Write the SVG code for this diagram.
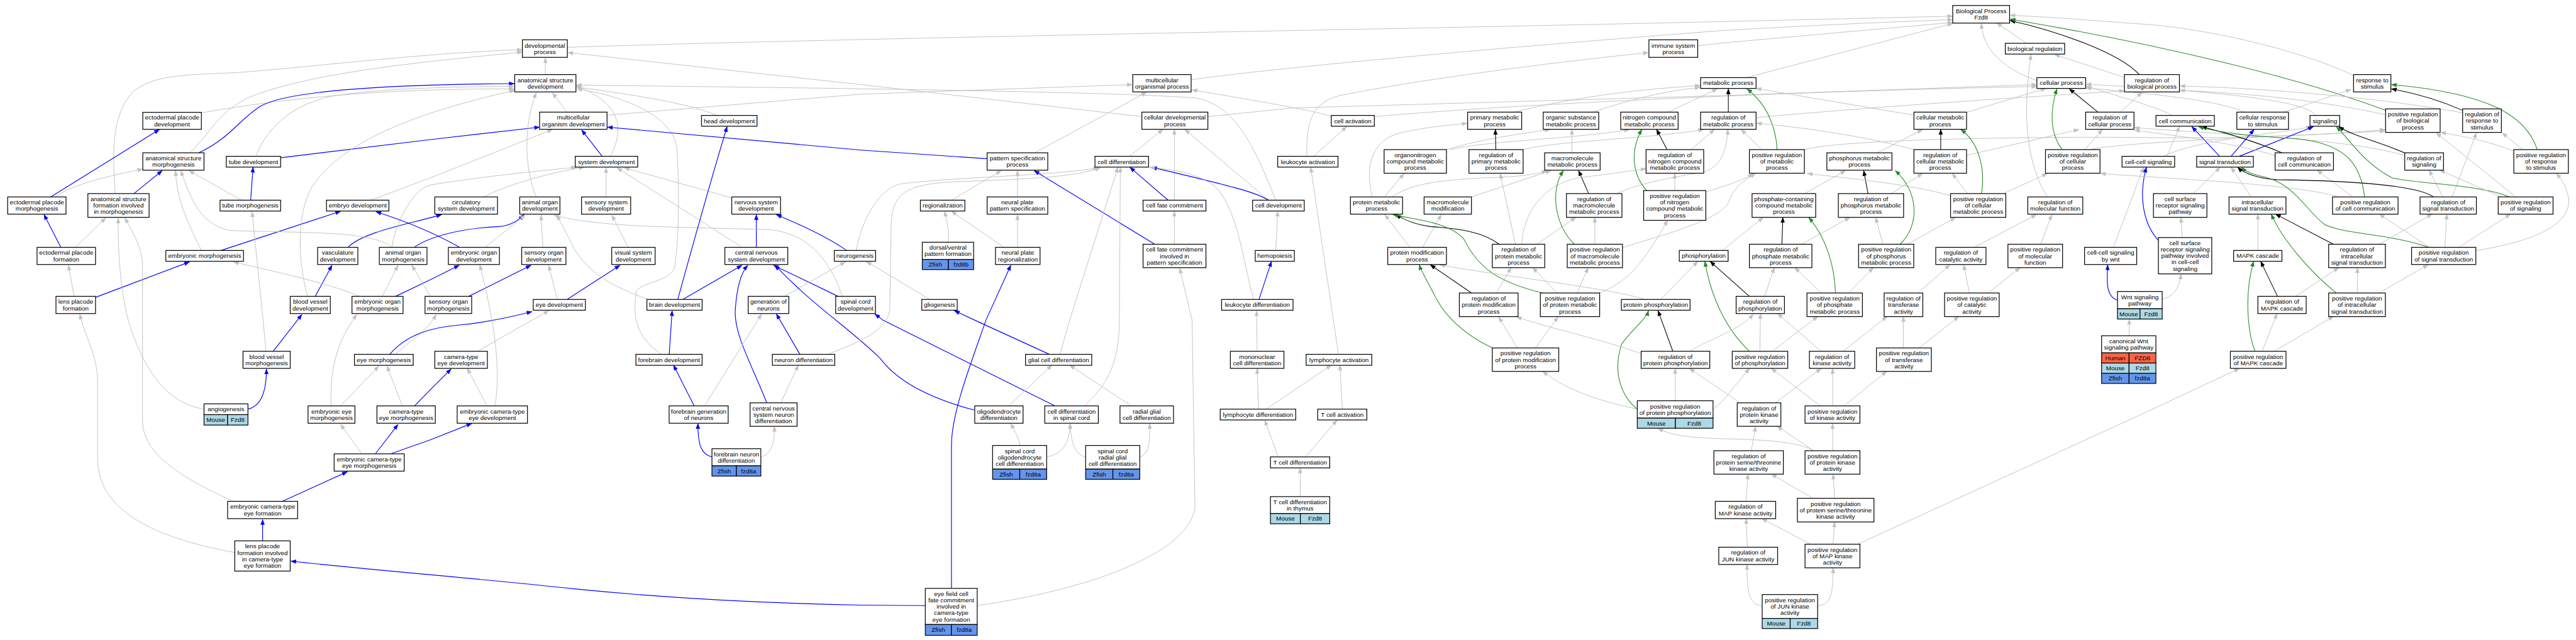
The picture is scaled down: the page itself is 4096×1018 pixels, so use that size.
<svg xmlns="http://www.w3.org/2000/svg" width="4096" height="1018" viewBox="0 0 4096 1018">
<style>
.n rect{fill:#fff;stroke:#000;stroke-width:1.6}
.n rect.mo{fill:#add8e6}
.n rect.zf{fill:#6495ed}
.n rect.hu{fill:#ff6347}
text{font-family:"Liberation Sans",Arial,Helvetica,sans-serif;font-size:13px;text-anchor:middle;fill:#000}
#edges path{fill:none}
.g{stroke:#c2c2c2;stroke-width:1.3;marker-end:url(#mg)}
.b{stroke:#0000ff;stroke-width:1.5;marker-end:url(#mb)}
.k{stroke:#000;stroke-width:1.4;marker-end:url(#mk)}
.v{stroke:#228b22;stroke-width:1.4;marker-end:url(#mv)}
</style>
<defs>
<marker id="mg" viewBox="0 0 12 9" refX="11" refY="4.5" markerWidth="12" markerHeight="9" markerUnits="userSpaceOnUse" orient="auto"><path d="M0,0L12,4.5L0,9z" fill="#c2c2c2"/></marker>
<marker id="mb" viewBox="0 0 12 9" refX="11" refY="4.5" markerWidth="12" markerHeight="9" markerUnits="userSpaceOnUse" orient="auto"><path d="M0,0L12,4.5L0,9z" fill="#0000ff"/></marker>
<marker id="mk" viewBox="0 0 12 9" refX="11" refY="4.5" markerWidth="12" markerHeight="9" markerUnits="userSpaceOnUse" orient="auto"><path d="M0,0L12,4.5L0,9z" fill="#000"/></marker>
<marker id="mv" viewBox="0 0 12 9" refX="11" refY="4.5" markerWidth="12" markerHeight="9" markerUnits="userSpaceOnUse" orient="auto"><path d="M0,0L12,4.5L0,9z" fill="#228b22"/></marker>
</defs>
<rect x="0" y="0" width="4096" height="1018" fill="#fff"/>
<g transform="scale(0.76063,0.76027)">
<g id="edges">
<path class="g" d="M421,236 C600,205 800,185 1075,186"/>
<path class="b" d="M415,320 C480,290 500,250 545,222 C600,190 800,177 1075,175"/>
<path class="g" d="M396,320 C440,280 450,240 517,205 C650,150 900,128 1092,109"/>
<path class="g" d="M241,405 C236,330 230,240 280,190 C330,150 420,158 520,150 C700,135 900,110 1092,104"/>
<path class="b" d="M280,405 L339,357"/>
<path class="b" d="M106,412 L333,271"/>
<path class="g" d="M115,412 Q160,380 298,354"/>
<path class="g" d="M535,327 C560,260 620,215 700,200 C800,185 950,181 1075,181"/>
<path class="b" d="M587,330 L900,292 L1128,266"/>
<path class="b" d="M524,419 L529,350"/>
<path class="g" d="M505,419 L395,357"/>
<path class="g" d="M775,419 L900,372 L1155,271"/>
<path class="b" d="M127,517 L92,449"/>
<path class="g" d="M158,517 L221,456"/>
<path class="b" d="M462,524 L712,442"/>
<path class="g" d="M421,524 C390,460 370,420 367,357"/>
<path class="b" d="M728,517 C760,485 850,470 923,449"/>
<path class="g" d="M818,517 C780,480 600,488 480,482 C420,470 400,420 378,357"/>
<path class="b" d="M867,517 C890,500 950,478 1043,474 C1070,472 1085,460 1095,449"/>
<path class="g" d="M820,517 C822,480 860,395 900,387 C1000,370 1150,355 1205,350"/>
<path class="g" d="M155,620 L143,555"/>
<path class="b" d="M200,622 L396,548"/>
<path class="b" d="M659,620 L694,555"/>
<path class="g" d="M643,620 C620,540 620,430 660,380 C720,300 850,240 1076,189"/>
<path class="g" d="M752,620 C680,590 560,565 488,548"/>
<path class="g" d="M799,620 L832,555"/>
<path class="b" d="M827,620 L900,585 L960,555"/>
<path class="g" d="M900,620 L861,555"/>
<path class="b" d="M980,620 L1110,555"/>
<path class="g" d="M426,856 C330,840 290,740 268,670 C250,600 247,520 247,456"/>
<path class="g" d="M488,1049 C380,1000 298,950 298,880 L298,560 C298,520 280,490 261,456"/>
<path class="g" d="M491,1156 C350,1130 204,1080 204,960 L204,800 C204,740 175,700 167,657"/>
<path class="g" d="M556,735 L550,670 L527,443"/>
<path class="b" d="M571,735 L631,658"/>
<path class="b" d="M518,856 C545,850 557,820 557,772"/>
<path class="g" d="M692,849 C690,780 700,720 746,658"/>
<path class="g" d="M712,849 L792,766"/>
<path class="g" d="M841,849 L809,766"/>
<path class="b" d="M867,849 L900,815 L943,772"/>
<path class="g" d="M827,741 C860,710 895,690 912,658"/>
<path class="b" d="M815,741 C850,700 900,685 960,680 C1020,675 1080,660 1112,652"/>
<path class="g" d="M756,949 L712,888"/>
<path class="b" d="M785,949 L832,888"/>
<path class="b" d="M818,949 L900,920 L986,886"/>
<path class="b" d="M590,1049 L726,987"/>
<path class="b" d="M549,1132 L549,1087"/>
<path class="b" d="M1934,1267 L1800,1266 C1600,1262 1400,1252 1200,1232 C1000,1210 800,1195 608,1174"/>
<path class="g" d="M1186,99 C1600,85 2500,68 3000,58 C3500,48 3900,38 4082,34"/>
<path class="g" d="M1140,156 L1140,121"/>
<path class="g" d="M1185,235 L1155,194"/>
<path class="g" d="M1269,241 L1800,197 L2367,177"/>
<path class="g" d="M1497,241 C1440,215 1300,195 1205,182"/>
<path class="b" d="M1259,327 L1216,272"/>
<path class="g" d="M1276,327 C1300,280 1310,220 1205,180"/>
<path class="g" d="M1012,412 C1050,390 1150,360 1221,350"/>
<path class="g" d="M1121,412 C1095,350 1095,260 1121,194"/>
<path class="g" d="M1267,412 L1267,351"/>
<path class="g" d="M1530,414 L1305,351"/>
<path class="g" d="M1551,517 L1290,351"/>
<path class="b" d="M1581,517 L1581,449"/>
<path class="b" d="M1770,524 C1720,490 1660,465 1623,449"/>
<path class="g" d="M1790,524 C1800,470 1830,400 1880,385 C2000,370 2200,368 2296,351"/>
<path class="b" d="M1752,620 L1617,555"/>
<path class="g" d="M1761,620 C1740,560 1700,485 1600,480 C1400,475 1250,475 1158,450"/>
<path class="g" d="M1015,517 L1098,450"/>
<path class="b" d="M960,517 C930,500 870,470 786,443"/>
<path class="g" d="M1135,517 L1131,450"/>
<path class="g" d="M1313,517 L1279,450"/>
<path class="g" d="M1165,626 L1147,555"/>
<path class="b" d="M1186,626 L1296,555"/>
<path class="b" d="M1417,626 C1460,470 1500,330 1520,265"/>
<path class="b" d="M1428,626 L1551,555"/>
<path class="g" d="M1354,626 C1280,600 1230,570 1200,520 C1185,490 1175,470 1164,450"/>
<path class="g" d="M1640,620 L1767,548"/>
<path class="b" d="M1603,843 C1570,760 1535,700 1537,650 C1540,600 1550,570 1563,555"/>
<path class="b" d="M2037,858 C1930,830 1870,790 1840,750 C1780,690 1700,640 1620,555"/>
<path class="b" d="M2205,849 L1846,670 L1829,657"/>
<path class="b" d="M2193,741 L2038,670 L1995,650"/>
<path class="b" d="M1989,1231 L1989,930 C1990,860 2030,760 2061,670 L2113,555"/>
<path class="g" d="M1473,849 L1592,657"/>
<path class="b" d="M1672,741 L1623,657"/>
<path class="b" d="M1399,741 L1405,650"/>
<path class="g" d="M1382,741 C1340,710 1320,680 1330,610 C1340,590 1400,590 1410,560 C1420,500 1420,380 1415,310 C1405,240 1300,200 1206,186"/>
<path class="g" d="M2490,167 C2600,150 3000,110 3600,64 C3800,52 4000,44 4082,41"/>
<path class="g" d="M2387,244 L1800,177 L1187,110"/>
<path class="g" d="M2525,244 L2700,226 L3600,200 L4258,177"/>
<path class="g" d="M2783,244 C2750,232 2650,215 2492,188"/>
<path class="g" d="M2873,244 C3200,215 3800,190 4258,181"/>
<path class="g" d="M2162,320 L2397,193"/>
<path class="b" d="M2063,332 L1800,314 L1270,266"/>
<path class="g" d="M2361,327 L2431,271"/>
<path class="g" d="M2455,419 L2455,271"/>
<path class="b" d="M2442,419 L2362,350"/>
<path class="g" d="M2652,419 L2477,271"/>
<path class="b" d="M2652,419 C2630,405 2600,395 2408,350"/>
<path class="g" d="M1989,419 L2093,357"/>
<path class="g" d="M2127,412 L2127,357"/>
<path class="b" d="M2414,511 L2162,357"/>
<path class="g" d="M2455,511 L2455,442"/>
<path class="g" d="M1982,507 C1985,480 1978,460 1975,442"/>
<path class="g" d="M2098,517 L1989,442"/>
<path class="g" d="M2127,517 L2127,449"/>
<path class="g" d="M2667,524 L2671,442"/>
<path class="b" d="M2632,626 L2658,547"/>
<path class="g" d="M2621,626 C2600,560 2590,440 2540,390 C2500,360 2450,355 2403,350"/>
<path class="g" d="M1943,626 L1811,547"/>
<path class="g" d="M2216,741 L2236,670 L2337,350"/>
<path class="g" d="M2268,849 C2300,815 2340,780 2340,670 L2342,350"/>
<path class="g" d="M2043,1267 C2300,1230 2490,1150 2498,1060 L2492,670 L2466,561"/>
<path class="g" d="M2628,735 L2627,650"/>
<path class="g" d="M2667,419 C2620,300 2580,220 2500,205 C2300,190 1600,183 1205,178"/>
<path class="g" d="M1732,741 C1780,720 1850,700 1860,650 L1863,470 C1865,400 1900,385 2000,380 C2150,375 2250,370 2300,351"/>
<path class="g" d="M3549,96 L3600,90 L4082,47"/>
<path class="g" d="M2746,327 L2815,265"/>
<path class="g" d="M2732,327 C2730,260 2740,215 2800,200 C3000,160 3300,125 3446,110"/>
<path class="g" d="M3164,235 C3300,200 3450,185 3554,179"/>
<path class="g" d="M3329,235 C3400,210 3480,190 3554,183"/>
<path class="g" d="M3486,235 L3590,186"/>
<path class="k" d="M3613,235 L3613,186"/>
<path class="g" d="M3671,246 C3900,225 4200,205 4441,190"/>
<path class="g" d="M3024,313 C3100,290 3180,280 3240,271"/>
<path class="g" d="M3033,313 C3100,295 3300,290 3406,271"/>
<path class="k" d="M3127,313 L3126,271"/>
<path class="g" d="M3184,313 C3250,295 3450,290 3561,271"/>
<path class="g" d="M3286,320 L3286,271"/>
<path class="k" d="M3485,313 L3463,271"/>
<path class="g" d="M3535,313 L3584,271"/>
<path class="g" d="M2869,412 C2855,360 2860,300 2920,280 C2980,265 3030,262 3067,258"/>
<path class="g" d="M2894,412 L2935,363"/>
<path class="g" d="M2910,412 C2950,385 3000,378 3100,372 C3180,370 3210,365 3234,357"/>
<path class="g" d="M3076,412 L3242,357"/>
<path class="k" d="M3321,405 L3300,357"/>
<path class="g" d="M3380,405 C3420,385 3500,370 3560,360 C3600,350 3610,310 3612,271"/>
<path class="v" d="M3443,399 C3415,370 3405,320 3432,271"/>
<path class="g" d="M3501,399 L3501,363"/>
<path class="g" d="M3566,402 C3600,390 3640,380 3665,363"/>
<path class="g" d="M2947,517 L2895,449"/>
<path class="g" d="M2974,517 L3013,449"/>
<path class="k" d="M3134,511 C3100,485 3050,478 2990,474 C2960,470 2935,460 2918,449"/>
<path class="g" d="M3213,511 L3294,455"/>
<path class="g" d="M3168,511 L3136,363"/>
<path class="g" d="M3181,511 C3185,440 3230,385 3300,372 C3380,362 3420,356 3441,353"/>
<path class="v" d="M3291,511 C3250,470 3240,400 3268,357"/>
<path class="g" d="M3334,511 L3334,455"/>
<path class="g" d="M3392,518 C3480,490 3600,460 3615,420 C3625,390 3650,375 3670,363"/>
<path class="k" d="M3076,613 L2990,554"/>
<path class="g" d="M3128,613 L3159,560"/>
<path class="v" d="M3225,613 C3130,590 3090,560 3060,500 C3030,465 2960,460 2912,449"/>
<path class="g" d="M3255,613 L3204,560"/>
<path class="g" d="M3297,613 L3320,560"/>
<path class="g" d="M3343,613 C3400,590 3430,560 3486,461"/>
<path class="g" d="M3600,524 L3686,455"/>
<path class="g" d="M3438,626 C3350,600 3150,580 3010,554"/>
<path class="g" d="M3472,626 L3549,547"/>
<path class="v" d="M3657,735 C3620,700 3580,640 3564,547"/>
<path class="k" d="M3657,620 L3575,547"/>
<path class="v" d="M3120,728 C3060,700 3020,660 3000,620 C2985,590 2972,570 2967,554"/>
<path class="v" d="M3423,856 C3390,830 3370,780 3390,720 C3410,690 3440,670 3446,650"/>
<path class="k" d="M3497,735 L3466,650"/>
<path class="g" d="M3172,728 L3133,663"/>
<path class="g" d="M3210,728 L3257,663"/>
<path class="g" d="M3431,740 C3350,710 3250,690 3170,663"/>
<path class="g" d="M3532,735 C3570,710 3640,690 3665,657"/>
<path class="g" d="M3502,838 L3502,771"/>
<path class="g" d="M3423,856 C3350,840 3280,820 3225,777"/>
<path class="g" d="M3581,856 L3600,840 L3657,771"/>
<path class="g" d="M3792,943 C3760,925 3700,920 3600,918 C3530,916 3490,910 3466,896"/>
<path class="g" d="M2798,741 L2740,350"/>
<path class="g" d="M2631,856 L2628,771"/>
<path class="g" d="M2647,856 L2783,764"/>
<path class="g" d="M2806,856 L2801,764"/>
<path class="g" d="M2672,956 L2644,879"/>
<path class="g" d="M2729,956 L2795,879"/>
<path class="g" d="M2718,1039 L2718,979"/>
<path class="g" d="M3652,162 L4082,49"/>
<path class="g" d="M4237,91 L4174,48"/>
<path class="g" d="M4258,169 C4180,140 4145,100 4142,49"/>
<path class="k" d="M4472,156 C4430,110 4300,65 4202,43"/>
<path class="g" d="M4441,162 L4295,114"/>
<path class="v" d="M4987,231 C4800,160 4500,90 4202,40"/>
<path class="g" d="M4920,158 C4800,100 4600,60 4500,52 C4400,45 4300,36 4202,32"/>
<path class="g" d="M4001,241 L3671,185"/>
<path class="g" d="M4111,235 L4277,185"/>
<path class="k" d="M4386,235 L4326,186"/>
<path class="g" d="M4432,235 L4478,193"/>
<path class="g" d="M3683,313 L3640,271"/>
<path class="v" d="M3715,313 C3712,260 3690,215 3652,186"/>
<path class="g" d="M3772,313 C3850,290 4300,285 4500,288 C4700,290 4900,280 4986,271"/>
<path class="g" d="M3924,320 L4019,271"/>
<path class="k" d="M4057,313 L4057,271"/>
<path class="g" d="M4001,313 C3900,285 3760,265 3672,258"/>
<path class="g" d="M4111,325 L4346,271"/>
<path class="v" d="M4311,313 C4285,280 4285,230 4300,186"/>
<path class="g" d="M4358,313 L4395,271"/>
<path class="g" d="M4369,313 C4450,295 4800,285 4986,274"/>
<path class="g" d="M4530,327 L4556,265"/>
<path class="g" d="M4522,327 C4600,290 4760,280 4832,265"/>
<path class="g" d="M3772,405 L3858,357"/>
<path class="k" d="M3905,405 L3896,357"/>
<path class="g" d="M3953,405 L4019,363"/>
<path class="v" d="M4142,405 C4150,360 4140,300 4099,271"/>
<path class="g" d="M4113,405 L4081,363"/>
<path class="g" d="M4188,405 L4280,363"/>
<path class="g" d="M4078,410 C4000,385 3850,372 3778,363"/>
<path class="g" d="M4280,412 C4240,350 4225,250 4246,114"/>
<path class="k" d="M3725,511 L3727,455"/>
<path class="g" d="M3766,511 L3867,455"/>
<path class="v" d="M3972,511 C4015,470 4010,400 3962,357"/>
<path class="g" d="M3936,511 L3921,455"/>
<path class="g" d="M3987,511 L4088,455"/>
<path class="g" d="M4128,517 L4257,449"/>
<path class="g" d="M4266,511 L4289,449"/>
<path class="g" d="M4418,517 L4481,350"/>
<path class="b" d="M4426,628 C4400,620 4405,580 4406,554"/>
<path class="b" d="M4514,505 C4480,470 4470,410 4487,350"/>
<path class="g" d="M3689,620 L3709,560"/>
<path class="v" d="M3837,613 C3835,560 3820,500 3781,455"/>
<path class="g" d="M3807,613 L3752,560"/>
<path class="g" d="M3864,613 L3916,560"/>
<path class="g" d="M4010,613 L4076,554"/>
<path class="g" d="M4117,613 L4105,554"/>
<path class="g" d="M4156,613 L4223,560"/>
<path class="g" d="M4773,235 L4915,187"/>
<path class="g" d="M4692,235 C4650,215 4550,200 4361,184"/>
<path class="g" d="M4540,241 C4500,220 4420,200 4361,180"/>
<path class="g" d="M4841,241 C4820,215 4700,195 4361,176"/>
<path class="g" d="M4987,240 C4850,210 4700,195 4557,189"/>
<path class="g" d="M5148,236 C4950,200 4700,183 4557,180"/>
<path class="g" d="M5027,325 C4900,290 4700,285 4462,267"/>
<path class="k" d="M5148,231 C5100,210 5050,195 4999,186"/>
<path class="b" d="M4640,327 L4582,265"/>
<path class="b" d="M4664,327 L4712,271"/>
<path class="b" d="M4681,327 L4836,265"/>
<path class="k" d="M4771,320 C4700,290 4640,275 4602,265"/>
<path class="g" d="M4756,325 C4650,295 4550,285 4462,272"/>
<path class="k" d="M5027,320 C4970,295 4920,285 4889,265"/>
<path class="v" d="M5304,313 C5280,240 5200,195 4999,177"/>
<path class="g" d="M5273,313 L5231,278"/>
<path class="g" d="M5255,316 C5200,295 5150,285 5102,277"/>
<path class="g" d="M4585,405 L4641,350"/>
<path class="g" d="M4706,412 L4664,350"/>
<path class="v" d="M4943,412 C4935,340 4900,300 4800,290 C4700,285 4630,275 4596,265"/>
<path class="g" d="M4918,412 L4844,356"/>
<path class="g" d="M4889,412 C4800,385 4550,375 4391,363"/>
<path class="k" d="M5087,412 C5050,385 4900,378 4760,376 C4720,374 4690,362 4678,350"/>
<path class="g" d="M5107,412 L5078,356"/>
<path class="g" d="M5126,412 L5177,278"/>
<path class="v" d="M5246,412 C5180,385 5050,385 5000,372 C4940,340 4910,290 4884,265"/>
<path class="g" d="M5228,412 L5100,356"/>
<path class="g" d="M5259,412 L5093,278"/>
<path class="v" d="M5076,517 C5000,490 4900,490 4860,470 C4820,440 4800,390 4740,372 C4710,365 4695,360 4686,350"/>
<path class="g" d="M5111,517 L5115,448"/>
<path class="g" d="M5141,517 L5248,448"/>
<path class="g" d="M5176,524 C5300,505 5370,470 5370,420 C5368,395 5355,375 5344,363"/>
<path class="g" d="M5078,517 L4974,448"/>
<path class="g" d="M4562,497 L4559,455"/>
<path class="g" d="M4520,626 C4545,620 4557,600 4559,573"/>
<path class="g" d="M4720,524 L4720,448"/>
<path class="k" d="M4878,511 L4757,448"/>
<path class="g" d="M4974,511 L5084,448"/>
<path class="v" d="M4884,613 C4830,570 4770,500 4748,448"/>
<path class="g" d="M4928,613 L4928,560"/>
<path class="g" d="M4973,613 L5076,554"/>
<path class="k" d="M4761,620 L4726,547"/>
<path class="g" d="M4799,620 L4889,560"/>
<path class="v" d="M4714,735 C4700,700 4690,620 4711,547"/>
<path class="g" d="M4729,735 L4760,656"/>
<path class="g" d="M4754,735 L4878,662"/>
<path class="g" d="M3885,1138 L4500,856 L4681,771"/>
<path class="g" d="M4451,702 L4451,668"/>
<path class="g" d="M3679,735 L3680,656"/>
<path class="g" d="M3705,735 L3800,662"/>
<path class="g" d="M3853,735 L3945,662"/>
<path class="g" d="M3807,735 L3716,656"/>
<path class="g" d="M3979,728 L3979,662"/>
<path class="g" d="M4012,728 L4095,662"/>
<path class="g" d="M3711,843 L3807,771"/>
<path class="g" d="M3637,843 L3600,817 L3532,771"/>
<path class="g" d="M3831,849 L3831,771"/>
<path class="g" d="M3805,849 L3703,771"/>
<path class="g" d="M3855,849 L3944,777"/>
<path class="g" d="M3661,943 L3670,892"/>
<path class="g" d="M3792,943 L3715,892"/>
<path class="g" d="M3831,943 L3831,886"/>
<path class="g" d="M3789,1042 L3703,992"/>
<path class="g" d="M3835,1042 L3832,992"/>
<path class="g" d="M3650,1049 L3654,992"/>
<path class="g" d="M3784,1138 L3683,1085"/>
<path class="g" d="M3832,1138 L3835,1092"/>
<path class="g" d="M3653,1145 L3650,1085"/>
<path class="g" d="M3684,1267 C3660,1265 3652,1250 3652,1181"/>
<path class="g" d="M3800,1267 C3825,1265 3832,1250 3832,1188"/>
<path class="b" d="M1451,849 L1408,764"/>
<path class="g" d="M1632,843 L1669,764"/>
<path class="b" d="M1488,956 C1465,950 1459,930 1459,886"/>
<path class="g" d="M1590,956 C1612,950 1619,930 1619,892"/>
<path class="g" d="M2132,932 C2130,915 2120,900 2113,886"/>
<path class="g" d="M2188,956 C2225,950 2237,920 2237,886"/>
<path class="g" d="M2269,956 C2245,950 2238,920 2237,886"/>
<path class="g" d="M2383,956 C2400,950 2405,930 2403,886"/>
<path class="g" d="M2109,849 L2199,764"/>
<path class="g" d="M2365,849 L2236,764"/>
<path class="g" d="M998,735 L1147,650"/>
<path class="g" d="M1035,849 C1045,780 1040,700 1003,554"/>
<path class="g" d="M1018,849 L977,771"/>
</g>
<g id="nodes">
<g id="n_bp" class="n"><rect x="4082" y="11.5" width="119" height="36.8"/><text x="4141.5" y="27.6">Biological Process<tspan x="4141.5" dy="13.5">Fzd8</tspan></text></g>
<g id="n_dev" class="n"><rect x="1092" y="83.3" width="94" height="36.7"/><text x="1139" y="99.4">developmental<tspan x="1139" dy="13.5">process</tspan></text></g>
<g id="n_imm" class="n"><rect x="3447" y="83.3" width="102" height="36.7"/><text x="3498" y="99.4">immune system<tspan x="3498" dy="13.5">process</tspan></text></g>
<g id="n_bioreg" class="n"><rect x="4192" y="90.6" width="124" height="22.6"/><text x="4254" y="106.4">biological regulation</text></g>
<g id="n_asd" class="n"><rect x="1076" y="156" width="128" height="36.3"/><text x="1140" y="171.9">anatomical structure<tspan x="1140" dy="13.5">development</tspan></text></g>
<g id="n_mop" class="n"><rect x="2368" y="156" width="122" height="36.3"/><text x="2429" y="171.9">multicellular<tspan x="2429" dy="13.5">organismal process</tspan></text></g>
<g id="n_met" class="n"><rect x="3555" y="162.4" width="116" height="22.6"/><text x="3613" y="178.2">metabolic process</text></g>
<g id="n_cp" class="n"><rect x="4258" y="162.4" width="102" height="22.6"/><text x="4309" y="178.2">cellular process</text></g>
<g id="n_rbp" class="n"><rect x="4441" y="156" width="115" height="36.3"/><text x="4498.5" y="171.9">regulation of<tspan x="4498.5" dy="13.5">biological process</tspan></text></g>
<g id="n_rts" class="n"><rect x="4920" y="156" width="78" height="36.3"/><text x="4959" y="171.9">response to<tspan x="4959" dy="13.5">stimulus</tspan></text></g>
<g id="n_epd" class="n"><rect x="298.5" y="235" width="122.5" height="35.5"/><text x="359.75" y="250.5">ectodermal placode<tspan x="359.75" dy="13.5">development</tspan></text></g>
<g id="n_mod" class="n"><rect x="1128" y="234.6" width="141" height="35.9"/><text x="1198.5" y="250.3">multicellular<tspan x="1198.5" dy="13.5">organism development</tspan></text></g>
<g id="n_head" class="n"><rect x="1466.5" y="241.5" width="116" height="22.5"/><text x="1524.5" y="257.25">head development</text></g>
<g id="n_cdp" class="n"><rect x="2387" y="234.6" width="138" height="35.9"/><text x="2456" y="250.3">cellular developmental<tspan x="2456" dy="13.5">process</tspan></text></g>
<g id="n_cact" class="n"><rect x="2783" y="241.5" width="90" height="22.5"/><text x="2828" y="257.25">cell activation</text></g>
<g id="n_pmp" class="n"><rect x="3068" y="234.6" width="113" height="35.9"/><text x="3124.5" y="250.3">primary metabolic<tspan x="3124.5" dy="13.5">process</tspan></text></g>
<g id="n_osmp" class="n"><rect x="3226" y="234.6" width="116" height="35.9"/><text x="3284" y="250.3">organic substance<tspan x="3284" dy="13.5">metabolic process</tspan></text></g>
<g id="n_ncmp" class="n"><rect x="3388" y="234.6" width="120" height="35.9"/><text x="3448" y="250.3">nitrogen compound<tspan x="3448" dy="13.5">metabolic process</tspan></text></g>
<g id="n_rmp" class="n"><rect x="3555" y="234.6" width="116" height="35.9"/><text x="3613" y="250.3">regulation of<tspan x="3613" dy="13.5">metabolic process</tspan></text></g>
<g id="n_cmp" class="n"><rect x="4001" y="234.6" width="110" height="35.9"/><text x="4056" y="250.3">cellular metabolic<tspan x="4056" dy="13.5">process</tspan></text></g>
<g id="n_rcp" class="n"><rect x="4360" y="234.6" width="101" height="35.9"/><text x="4410.5" y="250.3">regulation of<tspan x="4410.5" dy="13.5">cellular process</tspan></text></g>
<g id="n_cc" class="n"><rect x="4507" y="241.5" width="122" height="22.5"/><text x="4568" y="257.25">cell communication</text></g>
<g id="n_crs" class="n"><rect x="4676" y="234.6" width="108" height="35.9"/><text x="4730" y="250.3">cellular response<tspan x="4730" dy="13.5">to stimulus</tspan></text></g>
<g id="n_sig" class="n"><rect x="4829" y="241.5" width="62" height="22.5"/><text x="4860" y="257.25">signaling</text></g>
<g id="n_prbp" class="n"><rect x="4987" y="227.8" width="114" height="49.2"/><text x="5044" y="243.4">positive regulation<tspan x="5044" dy="13.5">of biological</tspan><tspan x="5044" dy="13.5">process</tspan></text></g>
<g id="n_rrs" class="n"><rect x="5148" y="227.8" width="81" height="49.2"/><text x="5188.5" y="243.4">regulation of<tspan x="5188.5" dy="13.5">response to</tspan><tspan x="5188.5" dy="13.5">stimulus</tspan></text></g>
<g id="n_asm" class="n"><rect x="298.5" y="319.7" width="128" height="36.3"/><text x="362.5" y="335.6">anatomical structure<tspan x="362.5" dy="13.5">morphogenesis</tspan></text></g>
<g id="n_tube" class="n"><rect x="473" y="327" width="113.6" height="22.6"/><text x="529.8" y="342.8">tube development</text></g>
<g id="n_sysd" class="n"><rect x="1202.5" y="327" width="130.5" height="22.6"/><text x="1267.75" y="342.8">system development</text></g>
<g id="n_pss" class="n"><rect x="2063.5" y="319.7" width="126.8" height="36.3"/><text x="2126.9" y="335.6">pattern specification<tspan x="2126.9" dy="13.5">process</tspan></text></g>
<g id="n_cdiff" class="n"><rect x="2289" y="327" width="112" height="22.6"/><text x="2345" y="342.8">cell differentiation</text></g>
<g id="n_lact" class="n"><rect x="2671" y="327" width="126" height="22.6"/><text x="2734" y="342.8">leukocyte activation</text></g>
<g id="n_oncmp" class="n"><rect x="2893.4" y="313" width="130.3" height="49.4"/><text x="2958.55" y="328.7">organonitrogen<tspan x="2958.55" dy="13.5">compound metabolic</tspan><tspan x="2958.55" dy="13.5">process</tspan></text></g>
<g id="n_rpmp" class="n"><rect x="3070.8" y="313" width="113.2" height="49.4"/><text x="3127.4" y="328.7">regulation of<tspan x="3127.4" dy="13.5">primary metabolic</tspan><tspan x="3127.4" dy="13.5">process</tspan></text></g>
<g id="n_mmp" class="n"><rect x="3229" y="319.7" width="116" height="36.3"/><text x="3287" y="335.6">macromolecule<tspan x="3287" dy="13.5">metabolic process</tspan></text></g>
<g id="n_rncmp" class="n"><rect x="3441" y="313" width="120.5" height="49.4"/><text x="3501.25" y="328.7">regulation of<tspan x="3501.25" dy="13.5">nitrogen compound</tspan><tspan x="3501.25" dy="13.5">metabolic process</tspan></text></g>
<g id="n_prmp" class="n"><rect x="3657" y="313" width="115" height="49.4"/><text x="3714.5" y="328.7">positive regulation<tspan x="3714.5" dy="13.5">of metabolic</tspan><tspan x="3714.5" dy="13.5">process</tspan></text></g>
<g id="n_phmp" class="n"><rect x="3819" y="319.7" width="136" height="36.3"/><text x="3887" y="335.6">phosphorus metabolic<tspan x="3887" dy="13.5">process</tspan></text></g>
<g id="n_rcmp" class="n"><rect x="4001" y="313" width="110" height="49.4"/><text x="4056" y="328.7">regulation of<tspan x="4056" dy="13.5">cellular metabolic</tspan><tspan x="4056" dy="13.5">process</tspan></text></g>
<g id="n_prcp" class="n"><rect x="4276" y="313" width="114" height="49.4"/><text x="4333" y="328.7">positive regulation<tspan x="4333" dy="13.5">of cellular</tspan><tspan x="4333" dy="13.5">process</tspan></text></g>
<g id="n_ccs" class="n"><rect x="4436" y="327" width="110" height="22.6"/><text x="4491" y="342.8">cell-cell signaling</text></g>
<g id="n_st" class="n"><rect x="4592" y="327" width="118.5" height="22.6"/><text x="4651.25" y="342.8">signal transduction</text></g>
<g id="n_rcc" class="n"><rect x="4756" y="319.7" width="122" height="36.3"/><text x="4817" y="335.6">regulation of<tspan x="4817" dy="13.5">cell communication</tspan></text></g>
<g id="n_rsig" class="n"><rect x="5027" y="319.7" width="81" height="36.3"/><text x="5067.5" y="335.6">regulation of<tspan x="5067.5" dy="13.5">signaling</tspan></text></g>
<g id="n_prrs" class="n"><rect x="5255" y="313" width="114" height="49.4"/><text x="5312" y="328.7">positive regulation<tspan x="5312" dy="13.5">of response</tspan><tspan x="5312" dy="13.5">to stimulus</tspan></text></g>
<g id="n_epm" class="n"><rect x="16" y="412" width="122" height="36"/><text x="77" y="427.75">ectodermal placode<tspan x="77" dy="13.5">morphogenesis</tspan></text></g>
<g id="n_asf" class="n"><rect x="183.7" y="405" width="128" height="49.7"/><text x="247.7" y="420.85">anatomical structure<tspan x="247.7" dy="13.5">formation involved</tspan><tspan x="247.7" dy="13.5">in morphogenesis</tspan></text></g>
<g id="n_tubem" class="n"><rect x="460" y="418.8" width="126.6" height="22.7"/><text x="523.3" y="434.65">tube morphogenesis</text></g>
<g id="n_emb" class="n"><rect x="682.5" y="418.8" width="130.5" height="22.7"/><text x="747.75" y="434.65">embryo development</text></g>
<g id="n_csd" class="n"><rect x="909" y="412" width="131" height="36"/><text x="974.5" y="427.75">circulatory<tspan x="974.5" dy="13.5">system development</tspan></text></g>
<g id="n_aod" class="n"><rect x="1086.5" y="412" width="84" height="36"/><text x="1128.5" y="427.75">animal organ<tspan x="1128.5" dy="13.5">development</tspan></text></g>
<g id="n_ssd" class="n"><rect x="1215.7" y="412" width="102.7" height="36"/><text x="1267.05" y="427.75">sensory system<tspan x="1267.05" dy="13.5">development</tspan></text></g>
<g id="n_nsd" class="n"><rect x="1529.7" y="412" width="102" height="36"/><text x="1580.7" y="427.75">nervous system<tspan x="1580.7" dy="13.5">development</tspan></text></g>
<g id="n_reg" class="n"><rect x="1924" y="418.8" width="93" height="22.7"/><text x="1970.5" y="434.65">regionalization</text></g>
<g id="n_npps" class="n"><rect x="2063.5" y="412" width="126.8" height="36"/><text x="2126.9" y="427.75">neural plate<tspan x="2126.9" dy="13.5">pattern specification</tspan></text></g>
<g id="n_cfc" class="n"><rect x="2389.5" y="418.8" width="131.5" height="22.7"/><text x="2455.25" y="434.65">cell fate commitment</text></g>
<g id="n_cdev" class="n"><rect x="2618.5" y="418.8" width="108" height="22.7"/><text x="2672.5" y="434.65">cell development</text></g>
<g id="n_protmp" class="n"><rect x="2823" y="412" width="109" height="36"/><text x="2877.5" y="427.75">protein metabolic<tspan x="2877.5" dy="13.5">process</tspan></text></g>
<g id="n_mmod" class="n"><rect x="2977" y="412" width="99" height="36"/><text x="3026.5" y="427.75">macromolecule<tspan x="3026.5" dy="13.5">modification</tspan></text></g>
<g id="n_rmmp" class="n"><rect x="3274.6" y="405" width="116" height="49.7"/><text x="3332.6" y="420.85">regulation of<tspan x="3332.6" dy="13.5">macromolecule</tspan><tspan x="3332.6" dy="13.5">metabolic process</tspan></text></g>
<g id="n_prncmp" class="n"><rect x="3436" y="398.7" width="130" height="62.3"/><text x="3501" y="414.1">positive regulation<tspan x="3501" dy="13.5">of nitrogen</tspan><tspan x="3501" dy="13.5">compound metabolic</tspan><tspan x="3501" dy="13.5">process</tspan></text></g>
<g id="n_pcmp" class="n"><rect x="3662.6" y="405" width="133" height="49.7"/><text x="3729.1" y="420.85">phosphate-containing<tspan x="3729.1" dy="13.5">compound metabolic</tspan><tspan x="3729.1" dy="13.5">process</tspan></text></g>
<g id="n_rphmp" class="n"><rect x="3843" y="405" width="136.4" height="49.7"/><text x="3911.2" y="420.85">regulation of<tspan x="3911.2" dy="13.5">phosphorus metabolic</tspan><tspan x="3911.2" dy="13.5">process</tspan></text></g>
<g id="n_prcmp" class="n"><rect x="4077.6" y="405" width="115.4" height="49.7"/><text x="4135.3" y="420.85">positive regulation<tspan x="4135.3" dy="13.5">of cellular</tspan><tspan x="4135.3" dy="13.5">metabolic process</tspan></text></g>
<g id="n_rmf" class="n"><rect x="4239" y="412" width="115" height="36"/><text x="4296.5" y="427.75">regulation of<tspan x="4296.5" dy="13.5">molecular function</tspan></text></g>
<g id="n_csrsp" class="n"><rect x="4501.7" y="405" width="111.7" height="49.7"/><text x="4557.55" y="420.85">cell surface<tspan x="4557.55" dy="13.5">receptor signaling</tspan><tspan x="4557.55" dy="13.5">pathway</tspan></text></g>
<g id="n_ist" class="n"><rect x="4659.7" y="412" width="119" height="36"/><text x="4719.2" y="427.75">intracellular<tspan x="4719.2" dy="13.5">signal transduction</tspan></text></g>
<g id="n_prcc" class="n"><rect x="4876" y="412" width="137" height="36"/><text x="4944.5" y="427.75">positive regulation<tspan x="4944.5" dy="13.5">of cell communication</tspan></text></g>
<g id="n_rst" class="n"><rect x="5059" y="412" width="117.7" height="36"/><text x="5117.85" y="427.75">regulation of<tspan x="5117.85" dy="13.5">signal transduction</tspan></text></g>
<g id="n_prsig" class="n"><rect x="5222.4" y="412" width="114.6" height="36"/><text x="5279.7" y="427.75">positive regulation<tspan x="5279.7" dy="13.5">of signaling</tspan></text></g>
<g id="n_epf" class="n"><rect x="77.5" y="517.5" width="122.2" height="35.9"/><text x="138.6" y="533.2">ectodermal placode<tspan x="138.6" dy="13.5">formation</tspan></text></g>
<g id="n_embm" class="n"><rect x="346.7" y="524" width="162.3" height="22.6"/><text x="427.85" y="539.8">embryonic morphogenesis</text></g>
<g id="n_vasc" class="n"><rect x="664" y="517.5" width="84" height="35.9"/><text x="706" y="533.2">vasculature<tspan x="706" dy="13.5">development</tspan></text></g>
<g id="n_aom" class="n"><rect x="793" y="517.5" width="99.6" height="35.9"/><text x="842.8" y="533.2">animal organ<tspan x="842.8" dy="13.5">morphogenesis</tspan></text></g>
<g id="n_eod" class="n"><rect x="937.3" y="517.5" width="106.7" height="35.9"/><text x="990.65" y="533.2">embryonic organ<tspan x="990.65" dy="13.5">development</tspan></text></g>
<g id="n_sod" class="n"><rect x="1090.6" y="517.5" width="92.4" height="35.9"/><text x="1136.8" y="533.2">sensory organ<tspan x="1136.8" dy="13.5">development</tspan></text></g>
<g id="n_vsd" class="n"><rect x="1278.8" y="517.5" width="90.7" height="35.9"/><text x="1324.15" y="533.2">visual system<tspan x="1324.15" dy="13.5">development</tspan></text></g>
<g id="n_cnsd" class="n"><rect x="1515.3" y="517.5" width="131.5" height="35.9"/><text x="1581.05" y="533.2">central nervous<tspan x="1581.05" dy="13.5">system development</tspan></text></g>
<g id="n_neurog" class="n"><rect x="1744" y="524" width="86.4" height="22.6"/><text x="1787.2" y="539.8">neurogenesis</text></g>
<g id="n_dv" class="n"><rect x="1928" y="506.8" width="107.3" height="35.9"/><text x="1981.65" y="522.5">dorsal/ventral<tspan x="1981.65" dy="13.5">pattern formation</tspan></text><rect class="zf" x="1928" y="542.7" width="54.5" height="21.3"/><rect class="zf" x="1982.5" y="542.7" width="52.8" height="21.3"/><text x="1955.25" y="557.85">Zfish</text><text x="2008.9" y="557.85">fzd8b</text></g>
<g id="n_npr" class="n"><rect x="2081" y="517.5" width="93.2" height="35.9"/><text x="2127.6" y="533.2">neural plate<tspan x="2127.6" dy="13.5">regionalization</tspan></text></g>
<g id="n_cfcps" class="n"><rect x="2389.5" y="511" width="131.5" height="49"/><text x="2455.25" y="526.5">cell fate commitment<tspan x="2455.25" dy="13.5">involved in</tspan><tspan x="2455.25" dy="13.5">pattern specification</tspan></text></g>
<g id="n_hemo" class="n"><rect x="2624" y="524" width="81.7" height="22.6"/><text x="2664.85" y="539.8">hemopoiesis</text></g>
<g id="n_pmodp" class="n"><rect x="2901" y="517.5" width="122.7" height="35.9"/><text x="2962.35" y="533.2">protein modification<tspan x="2962.35" dy="13.5">process</tspan></text></g>
<g id="n_rprmp" class="n"><rect x="3119.6" y="511" width="109.6" height="49"/><text x="3174.4" y="526.5">regulation of<tspan x="3174.4" dy="13.5">protein metabolic</tspan><tspan x="3174.4" dy="13.5">process</tspan></text></g>
<g id="n_prmmp" class="n"><rect x="3276.3" y="511" width="115.4" height="49"/><text x="3334" y="526.5">positive regulation<tspan x="3334" dy="13.5">of macromolecule</tspan><tspan x="3334" dy="13.5">metabolic process</tspan></text></g>
<g id="n_phos" class="n"><rect x="3510.5" y="524" width="102.1" height="22.6"/><text x="3561.55" y="539.8">phosphorylation</text></g>
<g id="n_rphosmp" class="n"><rect x="3657" y="511" width="130.7" height="49"/><text x="3722.35" y="526.5">regulation of<tspan x="3722.35" dy="13.5">phosphate metabolic</tspan><tspan x="3722.35" dy="13.5">process</tspan></text></g>
<g id="n_prphmp" class="n"><rect x="3885.3" y="511" width="115.3" height="49"/><text x="3942.95" y="526.5">positive regulation<tspan x="3942.95" dy="13.5">of phosphorus</tspan><tspan x="3942.95" dy="13.5">metabolic process</tspan></text></g>
<g id="n_rca" class="n"><rect x="4046.6" y="517.5" width="105" height="35.9"/><text x="4099.1" y="533.2">regulation of<tspan x="4099.1" dy="13.5">catalytic activity</tspan></text></g>
<g id="n_prmf" class="n"><rect x="4197.5" y="511" width="114.2" height="49"/><text x="4254.6" y="526.5">positive regulation<tspan x="4254.6" dy="13.5">of molecular</tspan><tspan x="4254.6" dy="13.5">function</tspan></text></g>
<g id="n_ccsw" class="n"><rect x="4357.7" y="517.5" width="109" height="35.9"/><text x="4412.2" y="533.2">cell-cell signaling<tspan x="4412.2" dy="13.5">by wnt</tspan></text></g>
<g id="n_csrspi" class="n"><rect x="4512" y="497" width="111.6" height="76"/><text x="4567.8" y="512.5">cell surface<tspan x="4567.8" dy="13.5">receptor signaling</tspan><tspan x="4567.8" dy="13.5">pathway involved</tspan><tspan x="4567.8" dy="13.5">in cell-cell</tspan><tspan x="4567.8" dy="13.5">signaling</tspan></text></g>
<g id="n_mapk" class="n"><rect x="4669.3" y="524" width="101" height="22.6"/><text x="4719.8" y="539.8">MAPK cascade</text></g>
<g id="n_rist" class="n"><rect x="4868" y="511" width="118.5" height="49"/><text x="4927.25" y="526.5">regulation of<tspan x="4927.25" dy="13.5">intracellular</tspan><tspan x="4927.25" dy="13.5">signal transduction</tspan></text></g>
<g id="n_prst" class="n"><rect x="5041.3" y="517.5" width="134.3" height="35.9"/><text x="5108.45" y="533.2">positive regulation<tspan x="5108.45" dy="13.5">of signal transduction</tspan></text></g>
<g id="n_lpf" class="n"><rect x="117" y="620" width="82.7" height="36"/><text x="158.35" y="635.75">lens placode<tspan x="158.35" dy="13.5">formation</tspan></text></g>
<g id="n_bvd" class="n"><rect x="606.7" y="620" width="83.8" height="36"/><text x="648.6" y="635.75">blood vessel<tspan x="648.6" dy="13.5">development</tspan></text></g>
<g id="n_eom" class="n"><rect x="735.8" y="620" width="106.8" height="36"/><text x="789.2" y="635.75">embryonic organ<tspan x="789.2" dy="13.5">morphogenesis</tspan></text></g>
<g id="n_som" class="n"><rect x="888.5" y="620" width="97.5" height="36"/><text x="937.25" y="635.75">sensory organ<tspan x="937.25" dy="13.5">morphogenesis</tspan></text></g>
<g id="n_eyed" class="n"><rect x="1114.7" y="626.5" width="109" height="22.5"/><text x="1169.2" y="642.25">eye development</text></g>
<g id="n_brain" class="n"><rect x="1352.3" y="626.5" width="115.4" height="22.5"/><text x="1410" y="642.25">brain development</text></g>
<g id="n_gon" class="n"><rect x="1564" y="620" width="85" height="36"/><text x="1606.5" y="635.75">generation of<tspan x="1606.5" dy="13.5">neurons</tspan></text></g>
<g id="n_scd" class="n"><rect x="1747" y="620" width="83" height="36"/><text x="1788.5" y="635.75">spinal cord<tspan x="1788.5" dy="13.5">development</tspan></text></g>
<g id="n_glio" class="n"><rect x="1927" y="626.5" width="74" height="22.5"/><text x="1964" y="642.25">gliogenesis</text></g>
<g id="n_ldiff" class="n"><rect x="2553.7" y="626.5" width="149.3" height="22.5"/><text x="2628.35" y="642.25">leukocyte differentiation</text></g>
<g id="n_rpmodp" class="n"><rect x="3050.7" y="613" width="122.8" height="49.4"/><text x="3112.1" y="628.7">regulation of<tspan x="3112.1" dy="13.5">protein modification</tspan><tspan x="3112.1" dy="13.5">process</tspan></text></g>
<g id="n_prpmp" class="n"><rect x="3220" y="613" width="124" height="49.4"/><text x="3282" y="628.7">positive regulation<tspan x="3282" dy="13.5">of protein metabolic</tspan><tspan x="3282" dy="13.5">process</tspan></text></g>
<g id="n_pphos" class="n"><rect x="3389.4" y="626.5" width="143.6" height="22.5"/><text x="3461.2" y="642.25">protein phosphorylation</text></g>
<g id="n_rphos" class="n"><rect x="3629.3" y="620" width="101" height="36"/><text x="3679.8" y="635.75">regulation of<tspan x="3679.8" dy="13.5">phosphorylation</tspan></text></g>
<g id="n_prphosmp" class="n"><rect x="3777.4" y="613" width="115.9" height="49.4"/><text x="3835.35" y="628.7">positive regulation<tspan x="3835.35" dy="13.5">of phosphate</tspan><tspan x="3835.35" dy="13.5">metabolic process</tspan></text></g>
<g id="n_rta" class="n"><rect x="3938.7" y="613" width="80.9" height="49.4"/><text x="3979.15" y="628.7">regulation of<tspan x="3979.15" dy="13.5">transferase</tspan><tspan x="3979.15" dy="13.5">activity</tspan></text></g>
<g id="n_prca" class="n"><rect x="4065" y="613" width="114.2" height="49.4"/><text x="4122.1" y="628.7">positive regulation<tspan x="4122.1" dy="13.5">of catalytic</tspan><tspan x="4122.1" dy="13.5">activity</tspan></text></g>
<g id="n_wnt" class="n"><rect x="4426.5" y="609.8" width="93.5" height="36.2"/><text x="4473.25" y="625.65">Wnt signaling<tspan x="4473.25" dy="13.5">pathway</tspan></text><rect class="mo" x="4426.5" y="646" width="47.1" height="21.5"/><rect class="mo" x="4473.6" y="646" width="46.4" height="21.5"/><text x="4450.05" y="661.25">Mouse</text><text x="4496.8" y="661.25">Fzd8</text></g>
<g id="n_rmapk" class="n"><rect x="4720" y="620" width="101" height="36"/><text x="4770.5" y="635.75">regulation of<tspan x="4770.5" dy="13.5">MAPK cascade</tspan></text></g>
<g id="n_prist" class="n"><rect x="4868" y="613" width="118.5" height="49.4"/><text x="4927.25" y="628.7">positive regulation<tspan x="4927.25" dy="13.5">of intracellular</tspan><tspan x="4927.25" dy="13.5">signal transduction</tspan></text></g>
<g id="n_bvm" class="n"><rect x="508" y="734.9" width="98.7" height="35.8"/><text x="557.35" y="750.55">blood vessel<tspan x="557.35" dy="13.5">morphogenesis</tspan></text></g>
<g id="n_eyem" class="n"><rect x="741" y="741.3" width="122.8" height="23"/><text x="802.4" y="757.3">eye morphogenesis</text></g>
<g id="n_cted" class="n"><rect x="909" y="734.9" width="109.8" height="35.8"/><text x="963.9" y="750.55">camera-type<tspan x="963.9" dy="13.5">eye development</tspan></text></g>
<g id="n_fbd" class="n"><rect x="1329.3" y="741.3" width="138.4" height="23"/><text x="1398.5" y="757.3">forebrain development</text></g>
<g id="n_nd" class="n"><rect x="1614.6" y="741.3" width="130.4" height="23"/><text x="1679.8" y="757.3">neuron differentiation</text></g>
<g id="n_gcd" class="n"><rect x="2143.8" y="741.3" width="138.4" height="23"/><text x="2213" y="757.3">glial cell differentiation</text></g>
<g id="n_mcd" class="n"><rect x="2572" y="734.9" width="112" height="35.8"/><text x="2628" y="750.55">mononuclear<tspan x="2628" dy="13.5">cell differentiation</tspan></text></g>
<g id="n_lyact" class="n"><rect x="2730.4" y="741.3" width="137.2" height="23"/><text x="2799" y="757.3">lymphocyte activation</text></g>
<g id="n_prpmodp" class="n"><rect x="3119.6" y="728" width="138.9" height="49"/><text x="3189.05" y="743.5">positive regulation<tspan x="3189.05" dy="13.5">of protein modification</tspan><tspan x="3189.05" dy="13.5">process</tspan></text></g>
<g id="n_rpphos" class="n"><rect x="3430.7" y="734.9" width="143.5" height="35.8"/><text x="3502.45" y="750.55">regulation of<tspan x="3502.45" dy="13.5">protein phosphorylation</tspan></text></g>
<g id="n_prphos" class="n"><rect x="3621.2" y="734.9" width="116" height="35.8"/><text x="3679.2" y="750.55">positive regulation<tspan x="3679.2" dy="13.5">of phosphorylation</tspan></text></g>
<g id="n_rka" class="n"><rect x="3782.5" y="734.9" width="94.7" height="35.8"/><text x="3829.85" y="750.55">regulation of<tspan x="3829.85" dy="13.5">kinase activity</tspan></text></g>
<g id="n_prta" class="n"><rect x="3922.6" y="728" width="114.8" height="49"/><text x="3980" y="743.5">positive regulation<tspan x="3980" dy="13.5">of transferase</tspan><tspan x="3980" dy="13.5">activity</tspan></text></g>
<g id="n_cwnt" class="n"><rect x="4393.3" y="702.4" width="113.5" height="35.9"/><text x="4450.05" y="718.1">canonical Wnt<tspan x="4450.05" dy="13.5">signaling pathway</tspan></text><rect class="hu" x="4393.3" y="738.3" width="57.4" height="21.3"/><rect class="hu" x="4450.7" y="738.3" width="56.1" height="21.3"/><text x="4422" y="753.45">Human</text><text x="4478.75" y="753.45">FZD8</text><rect class="mo" x="4393.3" y="759.6" width="57.4" height="21.3"/><rect class="mo" x="4450.7" y="759.6" width="56.1" height="21.3"/><text x="4422" y="774.75">Mouse</text><text x="4478.75" y="774.75">Fzd8</text><rect class="zf" x="4393.3" y="780.9" width="57.4" height="21.3"/><rect class="zf" x="4450.7" y="780.9" width="56.1" height="21.3"/><text x="4422" y="796.05">Zfish</text><text x="4478.75" y="796.05">fzd8a</text></g>
<g id="n_prmapk" class="n"><rect x="4662.5" y="734.9" width="116.3" height="35.8"/><text x="4720.65" y="750.55">positive regulation<tspan x="4720.65" dy="13.5">of MAPK cascade</tspan></text></g>
<g id="n_ang" class="n"><rect x="426.5" y="845" width="91.8" height="22.5"/><text x="472.4" y="860.75">angiogenesis</text><rect class="mo" x="426.5" y="867.5" width="49.3" height="21.8"/><rect class="mo" x="475.8" y="867.5" width="42.5" height="21.8"/><text x="451.15" y="882.9">Mouse</text><text x="497.05" y="882.9">Fzd8</text></g>
<g id="n_eem" class="n"><rect x="644" y="849.2" width="98" height="36.3"/><text x="693" y="865.1">embryonic eye<tspan x="693" dy="13.5">morphogenesis</tspan></text></g>
<g id="n_ctem" class="n"><rect x="788" y="849.2" width="122" height="36.3"/><text x="849" y="865.1">camera-type<tspan x="849" dy="13.5">eye morphogenesis</tspan></text></g>
<g id="n_ected" class="n"><rect x="955.7" y="849.2" width="146.9" height="36.3"/><text x="1029.15" y="865.1">embryonic camera-type<tspan x="1029.15" dy="13.5">eye development</tspan></text></g>
<g id="n_fgn" class="n"><rect x="1398.8" y="849.2" width="123.4" height="36.3"/><text x="1460.5" y="865.1">forebrain generation<tspan x="1460.5" dy="13.5">of neurons</tspan></text></g>
<g id="n_cnsnd" class="n"><rect x="1568" y="842.8" width="98.3" height="49.1"/><text x="1617.15" y="858.35">central nervous<tspan x="1617.15" dy="13.5">system neuron</tspan><tspan x="1617.15" dy="13.5">differentiation</tspan></text></g>
<g id="n_od" class="n"><rect x="2037.6" y="849.2" width="101.1" height="36.3"/><text x="2088.15" y="865.1">oligodendrocyte<tspan x="2088.15" dy="13.5">differentiation</tspan></text></g>
<g id="n_cdsc" class="n"><rect x="2184" y="849.2" width="112" height="36.3"/><text x="2240" y="865.1">cell differentiation<tspan x="2240" dy="13.5">in spinal cord</tspan></text></g>
<g id="n_rgcd" class="n"><rect x="2341.3" y="849.2" width="111.9" height="36.3"/><text x="2397.25" y="865.1">radial glial<tspan x="2397.25" dy="13.5">cell differentiation</tspan></text></g>
<g id="n_lydiff" class="n"><rect x="2550.8" y="856" width="157.8" height="22.6"/><text x="2629.7" y="871.8">lymphocyte differentiation</text></g>
<g id="n_tact" class="n"><rect x="2754.5" y="856" width="102.8" height="22.6"/><text x="2805.9" y="871.8">T cell activation</text></g>
<g id="n_prpphos" class="n"><rect x="3422.7" y="838.5" width="158.3" height="36.3"/><text x="3501.85" y="854.4">positive regulation<tspan x="3501.85" dy="13.5">of protein phosphorylation</tspan></text><rect class="mo" x="3422.7" y="874.8" width="79.7" height="21.2"/><rect class="mo" x="3502.4" y="874.8" width="78.6" height="21.2"/><text x="3462.55" y="889.9">Mouse</text><text x="3541.7" y="889.9">Fzd8</text></g>
<g id="n_rpka" class="n"><rect x="3631.6" y="842.8" width="91.2" height="49.1"/><text x="3677.2" y="858.35">regulation of<tspan x="3677.2" dy="13.5">protein kinase</tspan><tspan x="3677.2" dy="13.5">activity</tspan></text></g>
<g id="n_prka" class="n"><rect x="3773.3" y="849.2" width="114.8" height="36.3"/><text x="3830.7" y="865.1">positive regulation<tspan x="3830.7" dy="13.5">of kinase activity</tspan></text></g>
<g id="n_ecetm" class="n"><rect x="698.5" y="949.5" width="146.5" height="36.2"/><text x="771.75" y="965.35">embryonic camera-type<tspan x="771.75" dy="13.5">eye morphogenesis</tspan></text></g>
<g id="n_fnd" class="n"><rect x="1488.3" y="938.8" width="102.2" height="35.8"/><text x="1539.4" y="954.45">forebrain neuron<tspan x="1539.4" dy="13.5">differentiation</tspan></text><rect class="zf" x="1488.3" y="974.6" width="51.1" height="21.4"/><rect class="zf" x="1539.4" y="974.6" width="51.1" height="21.4"/><text x="1513.85" y="989.8">Zfish</text><text x="1564.95" y="989.8">fzd8a</text></g>
<g id="n_scod" class="n"><rect x="2075" y="932" width="113" height="49.5"/><text x="2131.5" y="947.75">spinal cord<tspan x="2131.5" dy="13.5">oligodendrocyte</tspan><tspan x="2131.5" dy="13.5">cell differentiation</tspan></text><rect class="zf" x="2075" y="981.5" width="56.8" height="21.3"/><rect class="zf" x="2131.8" y="981.5" width="56.2" height="21.3"/><text x="2103.4" y="996.65">Zfish</text><text x="2159.9" y="996.65">fzd8a</text></g>
<g id="n_scrg" class="n"><rect x="2269.5" y="932" width="113.1" height="49.5"/><text x="2326.05" y="947.75">spinal cord<tspan x="2326.05" dy="13.5">radial glial</tspan><tspan x="2326.05" dy="13.5">cell differentiation</tspan></text><rect class="zf" x="2269.5" y="981.5" width="56.9" height="21.3"/><rect class="zf" x="2326.4" y="981.5" width="56.2" height="21.3"/><text x="2297.95" y="996.65">Zfish</text><text x="2354.5" y="996.65">fzd8a</text></g>
<g id="n_tdiff" class="n"><rect x="2655.8" y="955.9" width="124" height="23"/><text x="2717.8" y="971.9">T cell differentiation</text></g>
<g id="n_rpstka" class="n"><rect x="3582.8" y="943" width="145.2" height="49"/><text x="3655.4" y="958.5">regulation of<tspan x="3655.4" dy="13.5">protein serine/threonine</tspan><tspan x="3655.4" dy="13.5">kinase activity</tspan></text></g>
<g id="n_prpka" class="n"><rect x="3773.3" y="943" width="114.8" height="49"/><text x="3830.7" y="958.5">positive regulation<tspan x="3830.7" dy="13.5">of protein kinase</tspan><tspan x="3830.7" dy="13.5">activity</tspan></text></g>
<g id="n_ecetf" class="n"><rect x="475.8" y="1048.9" width="146.4" height="36.2"/><text x="549" y="1064.75">embryonic camera-type<tspan x="549" dy="13.5">eye formation</tspan></text></g>
<g id="n_tdt" class="n"><rect x="2655.8" y="1039" width="124" height="35.5"/><text x="2717.8" y="1054.5">T cell differentiation<tspan x="2717.8" dy="13.5">in thymus</tspan></text><rect class="mo" x="2655.8" y="1074.5" width="62.6" height="21.3"/><rect class="mo" x="2718.4" y="1074.5" width="61.4" height="21.3"/><text x="2687.1" y="1089.65">Mouse</text><text x="2749.1" y="1089.65">Fzd8</text></g>
<g id="n_rmapka" class="n"><rect x="3585.7" y="1048.9" width="126.3" height="36.2"/><text x="3648.85" y="1064.75">regulation of<tspan x="3648.85" dy="13.5">MAP kinase activity</tspan></text></g>
<g id="n_prpstka" class="n"><rect x="3757.3" y="1042.5" width="160.1" height="49.5"/><text x="3837.35" y="1058.25">positive regulation<tspan x="3837.35" dy="13.5">of protein serine/threonine</tspan><tspan x="3837.35" dy="13.5">kinase activity</tspan></text></g>
<g id="n_lpfi" class="n"><rect x="490.8" y="1131.6" width="115.9" height="63.2"/><text x="548.75" y="1147.45">lens placode<tspan x="548.75" dy="13.5">formation involved</tspan><tspan x="548.75" dy="13.5">in camera-type</tspan><tspan x="548.75" dy="13.5">eye formation</tspan></text></g>
<g id="n_rjnk" class="n"><rect x="3593" y="1144.9" width="123" height="36.1"/><text x="3654.5" y="1160.7">regulation of<tspan x="3654.5" dy="13.5">JUN kinase activity</tspan></text></g>
<g id="n_prmapka" class="n"><rect x="3773.3" y="1138.5" width="114.8" height="49.5"/><text x="3830.7" y="1154.25">positive regulation<tspan x="3830.7" dy="13.5">of MAP kinase</tspan><tspan x="3830.7" dy="13.5">activity</tspan></text></g>
<g id="n_efcf" class="n"><rect x="1934.3" y="1231" width="108.5" height="75.6"/><text x="1988.55" y="1246.3">eye field cell<tspan x="1988.55" dy="13.5">fate commitment</tspan><tspan x="1988.55" dy="13.5">involved in</tspan><tspan x="1988.55" dy="13.5">camera-type</tspan><tspan x="1988.55" dy="13.5">eye formation</tspan></text><rect class="zf" x="1934.3" y="1306.6" width="54.5" height="22.6"/><rect class="zf" x="1988.8" y="1306.6" width="54" height="22.6"/><text x="1961.55" y="1322.4">Zfish</text><text x="2015.8" y="1322.4">fzd8a</text></g>
<g id="n_prjnk" class="n"><rect x="3683.8" y="1243.9" width="115.9" height="49.9"/><text x="3741.75" y="1259.85">positive regulation<tspan x="3741.75" dy="13.5">of JUN kinase</tspan><tspan x="3741.75" dy="13.5">activity</tspan></text><rect class="mo" x="3683.8" y="1293.8" width="58.5" height="21.2"/><rect class="mo" x="3742.3" y="1293.8" width="57.4" height="21.2"/><text x="3713.05" y="1308.9">Mouse</text><text x="3771" y="1308.9">Fzd8</text></g>
</g>
</g>
</svg>
